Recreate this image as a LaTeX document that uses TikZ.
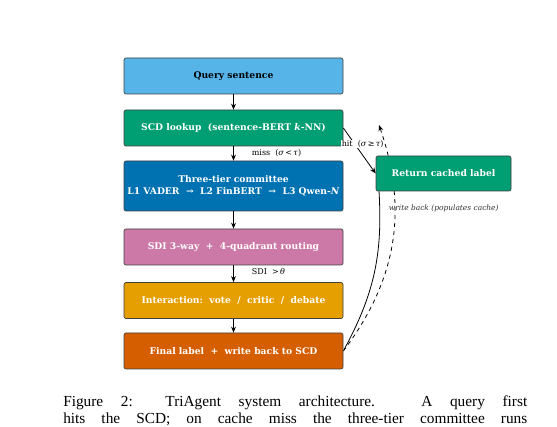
\documentclass[tikz,border=0pt]{standalone}
\usepackage{fontspec}
\setmainfont{DejaVu Serif}
\newfontfamily\capfont{Liberation Serif}
\usetikzlibrary{arrows.meta,backgrounds}
\definecolor{skyblue}{HTML}{56B4E9}
\definecolor{bluishgreen}{HTML}{009E73}
\definecolor{deepblue}{HTML}{0072B2}
\definecolor{purplepink}{HTML}{CC79A7}
\definecolor{amber}{HTML}{E69F00}
\definecolor{vermillion}{HTML}{D55E00}
\begin{document}
\begin{tikzpicture}[x=0.75pt,y=0.75pt,
				stage/.style={draw=black!75,line width=0.5pt,rounded corners=1.5pt,minimum width=164.25pt,minimum height=27pt,inner sep=0pt,align=center,text=white,font=\bfseries\fontsize{6.9}{9}\selectfont},
				flow/.style={-{Stealth[length=4.5pt,width=3.6pt]},line width=0.6pt},
				tag/.style={font=\fontsize{6}{7}\selectfont,inner sep=0.5pt}]
\useasboundingbox (0,0) rectangle (557,-427);
\node[stage,fill=skyblue,text=black] (query) at (233.5,-76) {Query sentence};
\node[stage,fill=bluishgreen] (scd) at (233.5,-128) {SCD lookup~~(sentence-BERT \textit{k}-NN)};
\node[stage,fill=deepblue,minimum height=37.5pt] (committee) at (233.5,-186) {Three-tier committee\\L1 VADER~~→~~L2 FinBERT~~→~~L3 Qwen-\textit{N}};
\node[stage,fill=purplepink] (sdi) at (233.5,-247) {SDI 3-way~~+~~4-quadrant routing};
\node[stage,fill=amber] (interact) at (233.5,-300.5) {Interaction:~~vote~~/~~critic~~/~~debate};
\node[stage,fill=vermillion] (final) at (233.5,-351) {Final label~~+~~write back to SCD};
\node[stage,fill=bluishgreen,minimum width=101.25pt,minimum height=26.25pt] (cached) at (443.5,-173.5) {Return cached label};
\coordinate (cachefoot) at (379,-191);
\coordinate (writetip) at (379,-125);
\draw[flow] (query) -- (scd);
\draw[flow] (scd) -- node[tag,anchor=west,xshift=13pt] {miss~~(\textit{σ}\,<\,\textit{τ})} (committee);
\draw[flow] (committee) -- (sdi);
\draw[flow] (sdi) -- node[tag,anchor=west,xshift=13pt,yshift=1.5pt] {SDI~~>\,\textit{θ}} (interact);
\draw[flow] (interact) -- (final);
\draw[flow] (scd.east) -- node[tag,fill=white,pos=0.35,xshift=6pt] {hit~~(\textit{σ}\,≥\,\textit{τ})} (cached.west);
\begin{scope}[on background layer]
	\draw[line width=0.6pt] (final.east) to[bend right=16] (cachefoot);
	\draw[flow,dashed] (final.east) to[bend right=28] (writetip);
\end{scope}
\node[tag,anchor=west,text=black!80,font=\itshape\fontsize{5.6}{6.5}\selectfont] (wblabel) at (388,-208) {write back (populates cache)};
\node[anchor=north west,inner sep=0pt,align=left,font=\capfont\fontsize{11.5}{12.5}\selectfont] (caption) at (63,-395) {\makebox[348pt][s]{Figure 2: TriAgent system architecture. A query first}\\[0.8pt]\makebox[348pt][s]{hits the SCD; on cache miss the three-tier committee runs}};
\end{tikzpicture}
\end{document}
